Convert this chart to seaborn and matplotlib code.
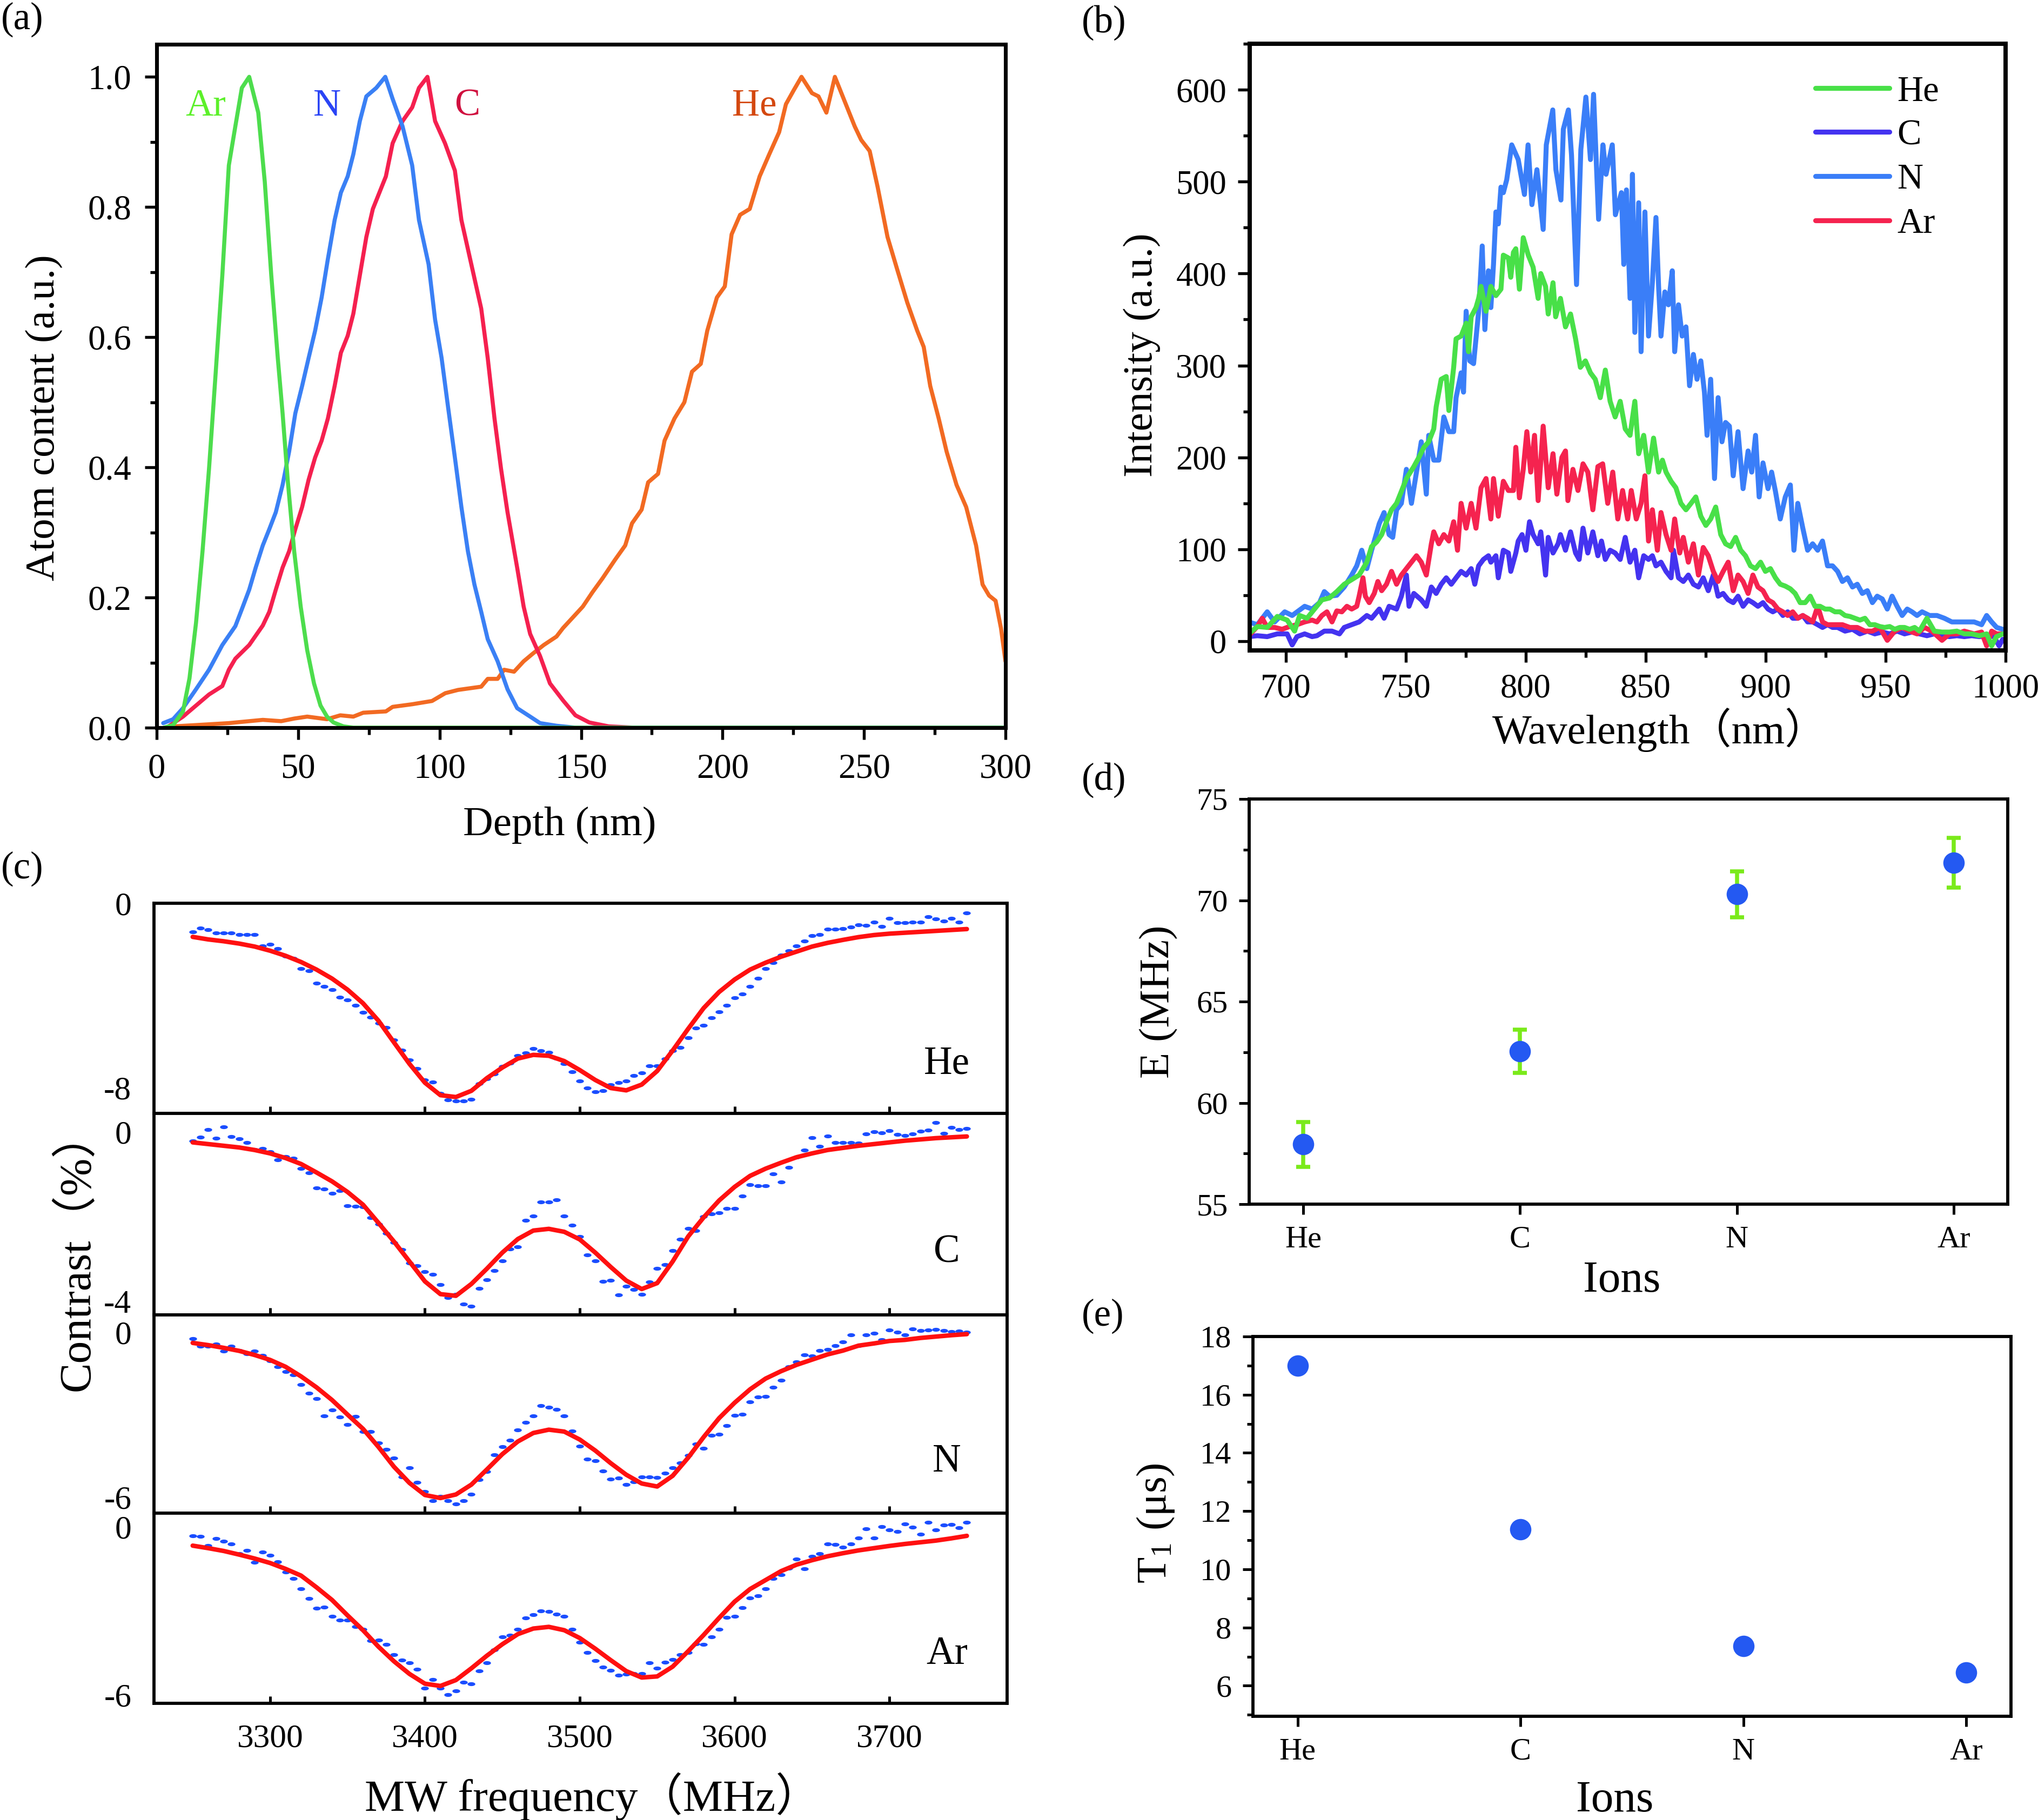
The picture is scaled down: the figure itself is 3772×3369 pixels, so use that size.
#!/usr/bin/env python3
# -*- coding: utf-8 -*-
"""
plot.py
Ion implantation figure: depth profiles, PL spectra, ODMR contrast, E splitting, T1
run: python plot.py  -> out.png
"""

import numpy as np
import pandas as pd
import matplotlib
matplotlib.use("Agg")
import matplotlib.pyplot as plt
import seaborn as sns
from matplotlib.markers import MarkerStyle
from matplotlib.path import Path
from matplotlib.ticker import MultipleLocator, FormatStrFormatter

# ============================================================
# appearance
# ============================================================
sns.set_theme(style="ticks")
plt.rcParams["font.family"] = ["Liberation Serif", "Noto Sans CJK SC"]
plt.rcParams["axes.unicode_minus"] = False
plt.rcParams["mathtext.fontset"] = "custom"
plt.rcParams["mathtext.rm"] = "Liberation Serif"
plt.rcParams["mathtext.it"] = "Liberation Serif:italic"
for key in ["text.color", "axes.labelcolor", "xtick.color", "ytick.color", "axes.edgecolor"]:
    plt.rcParams[key] = "black"

W, H = 3772, 3369

# ============================================================
# data
# ============================================================
# (a) depth profiles (nm, a.u.)
ar_depth = [2.5, 5.8, 9.3, 11.6, 13.9, 16.2, 18.5, 20.8, 23.2, 25.5, 27.8, 30.1, 32.7, 35.9, 38.2,
            40.5, 42.8, 44.5, 46.3, 48.6, 50.9, 53.2, 55.6, 57.9, 60.2, 62.5, 66.0, 69.5, 300]
ar_content = [0, 0.004, 0.025, 0.076, 0.161, 0.271, 0.398, 0.542, 0.695, 0.864, 0.924, 0.983, 1.0, 0.945, 0.839,
              0.695, 0.568, 0.483, 0.381, 0.271, 0.186, 0.119, 0.068, 0.034, 0.017, 0.008, 0.002, 0, 0]

n_depth = [2.3, 5.8, 9.3, 13.9, 18.5, 23.2, 27.8, 30.1, 32.7, 35.0,
           37.5, 39.8, 42.1, 44.5, 46.8, 49.0, 51.4, 53.7, 56.0, 58.3,
           60.5, 62.9, 65.1, 67.5, 69.5, 71.8, 74.1, 77.6, 80.8, 83.4,
           86.9, 90.3, 92.7, 96.1, 98.4, 100.7, 103.0, 105.4, 107.7, 110.0,
           112.3, 114.7, 117.0, 120.5, 124.0, 127.4, 132.0, 135.5, 141.3, 148.0, 300]
n_content = [0.007, 0.013, 0.030, 0.059, 0.089, 0.127, 0.156, 0.182, 0.212, 0.246,
             0.280, 0.305, 0.331, 0.373, 0.424, 0.483, 0.525, 0.568, 0.610, 0.661,
             0.720, 0.780, 0.822, 0.847, 0.881, 0.932, 0.970, 0.983, 1.0, 0.966,
             0.924, 0.864, 0.780, 0.712, 0.627, 0.568, 0.492, 0.415, 0.339, 0.271,
             0.220, 0.178, 0.136, 0.102, 0.059, 0.030, 0.017, 0.007, 0.003, 0.0, 0.0]

c_depth = [3.5, 9.3, 13.9, 18.5, 23.2, 25.5, 27.8, 32.7, 37.5, 39.8,
           42.1, 44.5, 46.8, 49.0, 51.4, 53.7, 56.0, 58.3, 60.5, 62.9,
           65.1, 67.5, 69.5, 71.8, 74.1, 76.4, 78.7, 81.0, 83.4, 86.9,
           90.3, 92.7, 95.7, 98.4, 101.9, 105.4, 107.7, 111.2, 114.7, 117.0,
           119.4, 121.7, 124.0, 127.4, 129.7, 132.0, 135.5, 139.0, 143.6, 148.0,
           152.9, 159.8, 169.0, 300]
c_content = [0.0, 0.017, 0.034, 0.051, 0.064, 0.089, 0.106, 0.127, 0.157, 0.178,
             0.212, 0.246, 0.271, 0.305, 0.339, 0.381, 0.415, 0.441, 0.475, 0.525,
             0.576, 0.602, 0.636, 0.695, 0.754, 0.797, 0.822, 0.847, 0.898, 0.932,
             0.953, 0.983, 1.0, 0.932, 0.898, 0.856, 0.780, 0.712, 0.644, 0.568,
             0.475, 0.398, 0.331, 0.246, 0.186, 0.144, 0.110, 0.068, 0.042, 0.019,
             0.008, 0.002, 0.0, 0.0]

he_depth = [5.8, 13.9, 25.5, 32.7, 37.5, 44.0, 48.6, 53.2, 60.2, 64.9,
            69.5, 73.0, 81.0, 83.4, 90.3, 97.3, 102.0, 106.5, 114.7, 117.0,
            120.5, 122.8, 126.3, 129.7, 133.0, 136.8, 141.3, 143.6, 147.0, 150.6,
            154.0, 157.5, 162.0, 165.6, 168.0, 171.4, 173.7, 177.2, 179.5, 183.0,
            186.5, 189.2, 192.3, 194.6, 198.0, 200.8, 203.2, 206.2, 209.6, 213.1,
            216.5, 220.0, 222.4, 225.1, 227.9, 231.6, 233.9, 236.7, 239.7, 243.2,
            246.7, 249.0, 252.0, 254.8, 258.3, 261.8, 265.3, 268.8, 271.1, 273.4,
            276.4, 279.2, 282.7, 286.1, 289.6, 291.9, 294.2, 296.5, 298.4, 300.0]
he_content = [0.002, 0.004, 0.007, 0.010, 0.012, 0.010, 0.014, 0.017, 0.013, 0.019,
              0.017, 0.023, 0.025, 0.032, 0.036, 0.041, 0.053, 0.058, 0.063, 0.075,
              0.075, 0.089, 0.086, 0.102, 0.114, 0.127, 0.140, 0.153, 0.169, 0.186,
              0.208, 0.229, 0.258, 0.280, 0.314, 0.335, 0.377, 0.390, 0.441, 0.475,
              0.500, 0.547, 0.559, 0.610, 0.661, 0.678, 0.758, 0.788, 0.797, 0.847,
              0.881, 0.915, 0.958, 0.979, 1.0, 0.975, 0.970, 0.945, 1.0, 0.962,
              0.924, 0.903, 0.886, 0.831, 0.754, 0.703, 0.653, 0.610, 0.585, 0.525,
              0.475, 0.424, 0.373, 0.339, 0.280, 0.220, 0.203, 0.195, 0.153, 0.102]

# (b) PL spectra (nm, a.u.)
he_wl = [684.6, 688.2, 692.3, 696.5, 700.6, 703.7, 705.8, 708.9, 712.0, 715.1,
         718.2, 721.3, 724.4, 727.5, 730.6, 733.8, 735.8, 737.9, 740.0, 742.0,
         744.1, 746.2, 748.2, 750.3, 753.4, 755.5, 757.6, 759.6, 761.7, 762.7,
         764.8, 766.9, 768.0, 770.0, 771.0, 773.1, 775.2, 776.2, 777.3, 779.3,
         780.4, 781.4, 783.5, 785.5, 787.6, 789.7, 790.7, 792.8, 793.8, 794.9,
         795.9, 797.4, 799.0, 801.1, 803.1, 805.2, 806.3, 808.3, 809.4, 811.4,
         812.5, 814.5, 816.6, 818.7, 820.8, 822.8, 824.9, 827.0, 829.0, 831.1,
         833.2, 835.2, 837.3, 839.4, 841.5, 843.5, 845.5, 847.1, 849.2, 851.2,
         853.3, 855.4, 857.0, 858.5, 860.6, 862.6, 864.7, 866.8, 868.9, 870.9,
         873.0, 875.1, 877.1, 879.2, 881.3, 883.3, 885.4, 887.5, 889.6, 891.6,
         893.7, 895.8, 897.9, 899.9, 902.0, 904.1, 906.1, 908.2, 910.3, 912.3,
         914.4, 916.5, 918.6, 920.6, 922.7, 924.8, 926.8, 928.9, 931.0, 933.1,
         935.1, 937.2, 939.3, 941.4, 943.4, 945.5, 947.6, 949.6, 951.7, 953.8,
         955.9, 957.9, 960.0, 962.1, 964.1, 967.2, 970.3, 973.5, 976.6, 979.7,
         982.8, 985.9, 989.0, 992.1, 994.2, 996.2, 998.8]
he_int = [8, 16, 15, 27, 23, 11, 28, 25, 35, 45,
          47, 54, 62, 67, 72, 86, 103, 108, 116, 130,
          143, 150, 163, 177, 190, 200, 211, 217, 231, 255,
          285, 288, 251, 298, 329, 332, 346, 315, 353, 363,
          373, 386, 359, 386, 376, 383, 420, 417, 396, 423,
          427, 383, 439, 420, 407, 373, 400, 386, 356, 390,
          353, 373, 342, 356, 329, 298, 305, 292, 285, 265,
          295, 261, 244, 261, 231, 224, 261, 204, 224, 184,
          221, 184, 197, 184, 174, 167, 150, 143, 150, 157,
          136, 126, 133, 146, 116, 106, 103, 113, 99, 93,
          82, 79, 86, 76, 79, 69, 62, 60, 57, 52,
          42, 42, 49, 38, 38, 35, 35, 32, 32, 28,
          27, 25, 23, 25, 18, 18, 16, 15, 16, 13,
          15, 15, 13, 15, 11, 25, 11, 10, 10, 11,
          8, 8, 6, 8, -5, 5, 8]

c_wl = [684.6, 688.2, 692.3, 696.5, 700.6, 702.7, 704.7, 707.9, 711.0, 713.0,
        716.1, 719.3, 722.4, 724.4, 727.5, 730.6, 733.8, 735.8, 739.0, 741.0,
        743.1, 746.2, 748.2, 750.3, 751.4, 753.4, 756.5, 758.6, 760.7, 762.7,
        764.8, 766.9, 769.0, 771.0, 773.1, 775.2, 777.3, 778.8, 780.4, 782.4,
        784.5, 785.5, 787.6, 788.6, 790.7, 792.8, 793.8, 795.9, 796.9, 798.5,
        800.1, 801.6, 803.1, 805.2, 806.3, 808.3, 809.4, 811.4, 813.5, 814.5,
        816.6, 818.7, 820.8, 822.3, 823.9, 825.9, 828.0, 830.1, 831.6, 833.2,
        835.2, 837.3, 839.4, 841.5, 843.5, 845.5, 847.1, 849.2, 851.2, 852.8,
        854.3, 856.4, 858.5, 860.6, 861.6, 863.7, 865.7, 867.8, 869.9, 872.0,
        874.0, 876.1, 878.2, 880.2, 882.3, 884.4, 886.5, 888.5, 890.6, 892.7,
        894.7, 896.8, 898.9, 901.0, 903.0, 905.1, 907.2, 909.2, 911.3, 913.4,
        915.5, 917.5, 919.6, 921.7, 923.7, 925.8, 927.9, 930.0, 933.1, 936.2,
        939.3, 942.4, 945.5, 948.6, 951.7, 954.8, 957.9, 961.0, 964.1, 967.2,
        970.3, 973.5, 976.6, 979.7, 982.8, 985.9, 989.0, 992.1, 995.2, 997.3,
        998.8]
c_int = [5, 6, 5, 8, 8, -4, 5, 8, 5, 6,
         11, 11, 8, 15, 18, 21, 28, 25, 35, 25,
         38, 35, 49, 72, 38, 52, 45, 38, 59, 52,
         62, 69, 62, 69, 76, 72, 79, 62, 82, 89,
         93, 86, 93, 69, 99, 96, 76, 96, 109, 116,
         99, 130, 116, 106, 119, 72, 113, 96, 106, 116,
         99, 119, 96, 89, 123, 96, 119, 93, 109, 89,
         99, 96, 89, 113, 86, 99, 69, 93, 89, 93,
         82, 86, 76, 69, 99, 69, 65, 72, 62, 59,
         69, 55, 72, 49, 52, 45, 42, 49, 38, 45,
         42, 38, 42, 35, 32, 35, 28, 32, 25, 25,
         28, 21, 21, 18, 15, 18, 15, 15, 11, 13,
         8, 11, 8, 10, 8, 11, 8, 10, 8, 6,
         8, 6, 5, 6, 5, 6, 5, 6, 5, -5,
         2]

n_wl = [684.6, 688.2, 692.3, 695.4, 699.6, 702.7, 707.9, 711.0, 714.1, 716.1,
        718.2, 721.3, 724.4, 727.5, 729.6, 731.7, 733.8, 735.8, 739.0, 741.0,
        743.1, 744.6, 746.2, 748.2, 750.3, 752.4, 754.5, 756.5, 758.6, 759.6,
        761.7, 763.8, 765.9, 768.0, 770.0, 771.0, 773.1, 774.1, 775.2, 776.7,
        778.3, 780.4, 781.9, 783.0, 784.5, 785.5, 786.6, 787.6, 788.6, 789.7,
        790.7, 792.1, 794.2, 796.9, 799.5, 801.0, 802.6, 804.7, 807.3, 808.6,
        811.3, 812.6, 814.7, 815.7, 817.8, 819.1, 821.2, 823.0, 825.1, 827.0,
        828.3, 830.4, 832.2, 833.5, 836.1, 837.4, 839.9, 840.9, 842.0, 843.5,
        844.5, 845.5, 847.1, 848.1, 849.7, 851.2, 852.8, 854.3, 855.4, 856.4,
        858.0, 859.5, 861.1, 862.1, 863.7, 865.2, 866.8, 868.3, 869.9, 871.4,
        873.0, 874.5, 875.6, 877.1, 878.7, 880.2, 881.8, 883.3, 884.9, 886.5,
        888.5, 890.6, 892.7, 894.2, 895.8, 897.3, 898.9, 901.0, 902.5, 904.1,
        906.1, 908.2, 910.3, 911.8, 913.4, 915.5, 917.5, 919.6, 921.7, 923.7,
        925.8, 927.9, 930.0, 932.0, 934.1, 936.2, 938.2, 940.3, 942.4, 944.5,
        946.5, 948.6, 950.7, 952.7, 954.8, 956.9, 959.0, 961.0, 963.1, 965.2,
        968.3, 971.4, 974.5, 977.6, 980.7, 983.8, 986.9, 990.0, 992.1, 994.2,
        996.3, 998.8]
n_int = [21, 18, 32, 21, 32, 28, 38, 35, 42, 54,
         49, 50, 59, 72, 82, 99, 79, 99, 128, 140,
         116, 113, 143, 150, 187, 150, 184, 217, 160, 224,
         197, 197, 244, 228, 228, 265, 292, 271, 359, 305,
         302, 359, 430, 339, 403, 363, 410, 467, 454, 494,
         488, 502, 540, 524, 486, 540, 475, 513, 448, 540,
         578, 513, 480, 557, 578, 529, 388, 535, 592, 524,
         595, 459, 540, 508, 540, 464, 488, 410, 491, 373,
         508, 336, 477, 315, 467, 332, 390, 461, 386, 332,
         380, 366, 403, 315, 366, 332, 342, 278, 312, 285,
         305, 271, 224, 285, 177, 265, 217, 238, 234, 180,
         228, 166, 207, 184, 224, 157, 194, 166, 184, 163,
         133, 157, 170, 99, 150, 123, 99, 106, 99, 109,
         82, 82, 76, 65, 69, 59, 62, 52, 55, 42,
         49, 46, 35, 49, 38, 28, 35, 32, 28, 32,
         28, 28, 25, 21, 21, 21, 21, 18, 28, 21,
         15, 13]

ar_wl = [684.6, 688.2, 690.2, 692.3, 695.4, 698.5, 701.6, 704.7, 707.9, 711.0,
         713.0, 715.1, 717.2, 719.3, 721.3, 723.4, 725.5, 727.5, 729.6, 730.6,
         732.2, 733.2, 734.8, 736.9, 738.4, 740.0, 742.0, 744.1, 746.2, 748.2,
         750.3, 752.4, 754.5, 756.5, 758.6, 760.7, 761.7, 763.8, 765.9, 768.0,
         770.0, 771.6, 773.1, 775.2, 777.3, 779.3, 781.4, 783.5, 785.5, 786.6,
         788.6, 790.7, 792.8, 794.9, 795.9, 797.4, 799.0, 800.5, 802.1, 803.7,
         805.2, 807.3, 809.4, 811.4, 813.0, 815.1, 816.6, 817.6, 819.7, 821.8,
         823.9, 825.9, 828.0, 830.1, 832.1, 834.2, 836.3, 838.4, 840.4, 842.5,
         844.0, 846.1, 848.1, 849.7, 851.2, 852.8, 854.9, 856.4, 858.5, 860.6,
         862.1, 864.2, 865.7, 867.8, 869.9, 872.0, 874.0, 876.1, 878.2, 880.2,
         882.3, 884.4, 886.5, 888.5, 890.6, 892.7, 894.7, 896.8, 898.9, 901.0,
         903.0, 905.1, 907.2, 909.2, 911.3, 913.4, 915.5, 917.5, 919.6, 921.7,
         923.7, 925.8, 928.9, 932.0, 935.1, 938.2, 941.4, 944.5, 947.6, 950.7,
         953.8, 956.9, 960.0, 963.1, 966.2, 969.3, 973.5, 976.6, 979.7, 982.8,
         986.9, 990.0, 992.1, 994.2, 996.3, 998.8]
ar_int = [6, 16, 25, 15, 15, 13, 16, 18, 21, 23,
          21, 28, 32, 21, 33, 32, 38, 35, 38, 49,
          69, 49, 42, 52, 65, 55, 62, 76, 62, 72,
          79, 86, 93, 86, 72, 106, 119, 106, 116, 109,
          130, 99, 150, 123, 150, 123, 167, 177, 133, 177,
          136, 174, 164, 164, 211, 156, 187, 228, 184, 224,
          153, 234, 167, 204, 160, 200, 207, 153, 187, 164,
          193, 184, 143, 190, 193, 150, 184, 133, 164, 133,
          164, 133, 150, 180, 109, 143, 99, 140, 116, 99,
          133, 96, 113, 86, 106, 72, 102, 93, 76, 65,
          76, 86, 55, 72, 65, 52, 72, 59, 55, 45,
          42, 35, 32, 28, 32, 25, 28, 25, 21, 38,
          21, 18, 18, 18, 15, 15, 11, 11, 15, 1,
          11, 15, 11, 8, 15, 11, 1, 8, 8, 11,
          8, 10, -5, 11, 8, 8]

# (c) ODMR contrast (%) measured every 5 MHz, fits every 10 MHz
mw_freq = np.arange(3250, 3751, 5)
fit_freq = np.arange(3250, 3751, 10)

he_dots = [-1.24, -1.08, -1.15, -1.28, -1.28, -1.28, -1.36, -1.36, -1.36, -1.86,
           -1.79, -1.96, -2.29, -2.39, -2.84, -2.94, -3.47, -3.62, -3.76, -4.09,
           -4.20, -4.44, -4.73, -4.94, -5.20, -5.39, -5.93, -6.37, -6.80, -7.17,
           -7.67, -7.75, -8.26, -8.53, -8.57, -8.57, -8.51, -7.83, -7.63, -7.40,
           -7.09, -6.93, -6.62, -6.50, -6.31, -6.39, -6.48, -6.74, -6.97, -7.31,
           -7.71, -8.02, -8.18, -8.14, -7.87, -7.79, -7.71, -7.48, -7.36, -7.05,
           -7.05, -6.76, -6.39, -6.27, -5.84, -5.41, -5.29, -4.98, -4.71, -4.44,
           -4.11, -3.93, -3.62, -3.27, -2.84, -2.57, -2.25, -2.06, -1.85, -1.63,
           -1.40, -1.36, -1.12, -1.12, -1.10, -1.04, -0.93, -0.97, -0.83, -1.01,
           -0.65, -0.85, -0.85, -0.83, -0.82, -0.59, -0.68, -0.77, -0.65, -0.83,
           -0.42]
he_fit = [-1.46, -1.57, -1.65, -1.75, -1.88, -2.06, -2.28, -2.55, -2.88, -3.27,
          -3.75, -4.34, -5.10, -6.04, -6.97, -7.79, -8.33, -8.41, -8.14, -7.59,
          -7.13, -6.74, -6.58, -6.62, -6.85, -7.24, -7.67, -8.02, -8.12, -7.87,
          -7.28, -6.39, -5.45, -4.55, -3.85, -3.31, -2.88, -2.58, -2.32, -2.10,
          -1.88, -1.72, -1.59, -1.47, -1.38, -1.32, -1.28, -1.24, -1.20, -1.16,
          -1.12]

c_dots = [-0.22, -0.13, 0.05, -0.15, 0.12, -0.12, -0.16, -0.25, -0.42, -0.39,
          -0.47, -0.66, -0.58, -0.63, -0.86, -0.97, -1.32, -1.35, -1.45, -1.39,
          -1.74, -1.76, -1.77, -2.03, -2.18, -2.39, -2.61, -2.78, -3.10, -3.16,
          -3.30, -3.37, -3.60, -3.91, -3.83, -4.06, -4.12, -3.69, -3.49, -3.28,
          -3.05, -2.77, -2.71, -2.09, -1.99, -1.66, -1.65, -1.60, -1.99, -2.21,
          -2.47, -2.90, -3.05, -3.53, -3.51, -3.85, -3.64, -3.72, -3.83, -3.54,
          -3.23, -3.13, -2.80, -2.54, -2.28, -2.33, -2.00, -1.94, -1.91, -1.81,
          -1.81, -1.51, -1.25, -1.27, -1.27, -0.99, -1.18, -0.84, -0.60, -0.43,
          -0.14, -0.34, -0.10, -0.26, -0.25, -0.25, -0.27, -0.05, 0.00, -0.03,
          0.03, -0.06, -0.09, -0.05, 0.01, 0.04, 0.22, -0.04, 0.10, 0.05,
          0.08]
c_fit = [-0.25, -0.29, -0.33, -0.37, -0.43, -0.51, -0.62, -0.76, -0.96, -1.17,
         -1.42, -1.72, -2.15, -2.59, -3.06, -3.53, -3.83, -3.87, -3.59, -3.23,
         -2.85, -2.53, -2.33, -2.29, -2.36, -2.54, -2.85, -3.19, -3.51, -3.71,
         -3.57, -3.06, -2.47, -2.02, -1.62, -1.30, -1.04, -0.87, -0.73, -0.60,
         -0.51, -0.43, -0.38, -0.33, -0.29, -0.25, -0.21, -0.18, -0.15, -0.13,
         -0.11]

n_dots = [-0.22, -0.50, -0.50, -0.43, -0.67, -0.51, -0.65, -0.78, -0.67, -0.84,
          -1.04, -1.24, -1.43, -1.54, -1.89, -2.22, -2.40, -3.03, -2.82, -3.07,
          -3.36, -3.05, -3.61, -3.60, -4.03, -4.25, -4.57, -5.26, -4.92, -5.46,
          -5.80, -6.13, -5.97, -6.13, -6.24, -6.13, -5.90, -5.37, -5.07, -4.46,
          -4.17, -3.92, -3.56, -3.28, -3.04, -2.66, -2.72, -2.80, -3.03, -3.58,
          -4.15, -4.62, -4.67, -5.05, -5.35, -5.30, -5.54, -5.43, -5.26, -5.26,
          -5.29, -5.13, -4.92, -4.76, -4.48, -4.07, -4.21, -3.74, -3.71, -3.39,
          -3.02, -2.98, -2.53, -2.35, -2.34, -1.99, -1.75, -1.25, -1.07, -0.82,
          -0.86, -0.66, -0.61, -0.48, -0.35, -0.08, -0.48, -0.08, -0.02, -0.27,
          0.08, 0.02, -0.08, 0.13, 0.06, 0.08, 0.11, 0.06, 0.03, 0.04,
          0.01]
n_fit = [-0.38, -0.46, -0.56, -0.67, -0.82, -1.00, -1.25, -1.60, -2.00, -2.46,
         -2.99, -3.51, -4.17, -4.89, -5.48, -5.92, -6.03, -5.90, -5.54, -4.99,
         -4.43, -3.97, -3.66, -3.54, -3.61, -3.90, -4.30, -4.76, -5.18, -5.50,
         -5.61, -5.22, -4.56, -3.81, -3.12, -2.56, -2.07, -1.68, -1.41, -1.18,
         -0.99, -0.80, -0.66, -0.48, -0.40, -0.31, -0.27, -0.20, -0.15, -0.10,
         -0.06]

ar_dots = [-0.33, -0.35, -0.68, -0.42, -0.53, -0.62, -0.96, -0.85, -1.27, -0.90,
           -1.03, -1.25, -1.62, -1.86, -2.23, -2.57, -2.91, -2.88, -3.21, -3.33,
           -3.33, -3.57, -3.66, -4.07, -4.05, -4.20, -4.57, -4.76, -4.86, -5.10,
           -5.77, -5.46, -5.77, -6.00, -5.87, -5.55, -5.62, -5.15, -4.87, -4.40,
           -3.93, -3.87, -3.66, -3.26, -3.15, -3.01, -3.04, -3.13, -3.20, -3.66,
           -4.13, -4.50, -4.79, -5.02, -5.13, -5.31, -5.26, -5.24, -5.24, -4.87,
           -5.06, -4.84, -4.74, -4.57, -4.49, -4.18, -4.20, -3.94, -3.66, -3.24,
           -3.20, -2.90, -2.55, -2.47, -2.23, -1.86, -1.72, -1.49, -1.15, -1.51,
           -1.06, -0.97, -0.62, -0.64, -0.74, -0.61, -0.40, -0.08, -0.40, -0.01,
           -0.11, -0.17, 0.10, -0.03, -0.28, 0.16, -0.11, 0.05, 0.08, -0.05,
           0.16]
ar_fit = [-0.68, -0.77, -0.87, -1.00, -1.14, -1.30, -1.51, -1.75, -2.17, -2.62,
          -3.17, -3.70, -4.29, -4.81, -5.26, -5.61, -5.69, -5.48, -5.06, -4.61,
          -4.20, -3.84, -3.64, -3.58, -3.70, -3.98, -4.36, -4.77, -5.16, -5.39,
          -5.35, -5.00, -4.45, -3.87, -3.26, -2.68, -2.23, -1.91, -1.59, -1.36,
          -1.20, -1.06, -0.95, -0.85, -0.77, -0.69, -0.62, -0.56, -0.50, -0.42,
          -0.33]

# (d), (e)
ions = ["He", "C", "N", "Ar"]
e_split = [57.95, 62.55, 70.3, 71.85]
e_err = [1.1, 1.07, 1.13, 1.22]
t1_us = [17.0, 11.38, 7.37, 6.46]

# colours
DEPTH_COLORS = {"He": "#f26a22", "C": "#f5204f", "N": "#3a80f5", "Ar": "#4ddd4d"}
DEPTH_TEXT = {"He": "#d4480f", "C": "#d0103f", "N": "#2a44f5", "Ar": "#5cf02a"}
PL_COLORS = {"He": "#48e048", "C": "#4433f0", "N": "#3a7ef8", "Ar": "#f5234f"}
DOT_BLUE = "#1a4dff"
FIT_RED = "#ff1010"


def rect(left, top, right, bottom):
    return [left / W, 1 - bottom / H, (right - left) / W, (bottom - top) / H]


def frame(ax, lw):
    for sp in ax.spines.values():
        sp.set_linewidth(lw)
        sp.set_color("black")


# ============================================================
# panels
# ============================================================
def plot_depth(ax):
    series = [("He", he_depth, he_content), ("C", c_depth, c_content),
              ("N", n_depth, n_content), ("Ar", ar_depth, ar_content)]
    for name, x, y in series:
        sns.lineplot(x=x, y=y, color=DEPTH_COLORS[name], linewidth=1.8,
                     estimator=None, ax=ax)
    for name, xpos in [("Ar", 17.4), ("N", 60.3), ("C", 109.8), ("He", 211.2)]:
        ax.text(xpos, 0.955, name, color=DEPTH_TEXT[name], fontsize=17,
                ha="center", va="center")
    ax.set_xlim(0, 300)
    ax.set_ylim(0, 1.05)
    ax.xaxis.set_major_locator(MultipleLocator(50))
    ax.xaxis.set_minor_locator(MultipleLocator(25))
    ax.yaxis.set_major_locator(MultipleLocator(0.2))
    ax.yaxis.set_minor_locator(MultipleLocator(0.1))
    ax.yaxis.set_major_formatter(FormatStrFormatter("%.1f"))
    ax.tick_params(which="major", direction="out", length=5.3, width=1.3, labelsize=15.5, pad=6)
    ax.tick_params(which="minor", direction="out", length=3, width=1.3)
    ax.set_xlabel("Depth (nm)", fontsize=18.5)
    ax.set_ylabel("Atom content (a.u.)", fontsize=18.5)
    ax.xaxis.set_label_coords(0.475, -0.115)
    ax.yaxis.set_label_coords(-0.111, 0.454)
    frame(ax, 1.7)


def plot_pl(ax):
    series = [("N", n_wl, n_int), ("C", c_wl, c_int), ("Ar", ar_wl, ar_int), ("He", he_wl, he_int)]
    for name, x, y in series:
        sns.lineplot(x=x, y=y, color=PL_COLORS[name], linewidth=2.2,
                     estimator=None, label=name, ax=ax)
    handles, labels = ax.get_legend_handles_labels()
    order = [labels.index(n) for n in ["He", "C", "N", "Ar"]]
    ax.legend([handles[i] for i in order], [labels[i] for i in order],
              loc="upper left", bbox_to_anchor=(0.729, 0.972), borderaxespad=0,
              frameon=False, fontsize=16, handlelength=2.06, handletextpad=0.22,
              labelspacing=0.31)
    ax.set_xlim(685, 1000)
    ax.set_ylim(-10, 650)
    ax.xaxis.set_major_locator(MultipleLocator(50))
    ax.xaxis.set_minor_locator(MultipleLocator(25))
    ax.yaxis.set_major_locator(MultipleLocator(100))
    ax.yaxis.set_minor_locator(MultipleLocator(50))
    ax.tick_params(which="major", direction="out", length=5.3, width=1.3, labelsize=15, pad=5)
    ax.tick_params(which="minor", direction="out", length=3, width=1.3)
    ax.set_xlabel("Wavelength（nm）", fontsize=18.5)
    ax.set_ylabel("Intensity (a.u.)", fontsize=18.5)
    ax.xaxis.set_label_coords(0.542, -0.094)
    ax.yaxis.set_label_coords(-0.118, 0.487)
    frame(ax, 1.9)


def plot_odmr(axes):
    theta = np.linspace(0, 2 * np.pi, 33)
    dot_shape = MarkerStyle(Path(np.column_stack([np.cos(theta), 0.5 * np.sin(theta)]), closed=True))
    panels = [("He", he_dots, he_fit, (-9.12, 0.0), -8, -6.97),
              ("C", c_dots, c_fit, (-4.32, 0.434), -4, -2.85),
              ("N", n_dots, n_fit, (-6.58, 0.64), -6, -4.72),
              ("Ar", ar_dots, ar_fit, (-6.31, 0.48), -6, -4.55)]
    for i, (ax, (name, dots, fit, ylim, low, ylab)) in enumerate(zip(axes, panels)):
        sns.scatterplot(x=mw_freq, y=dots, marker=dot_shape, s=12, color=DOT_BLUE,
                        linewidth=0, ax=ax, zorder=2)
        sns.lineplot(x=fit_freq, y=fit, color=FIT_RED, linewidth=2.0,
                     estimator=None, ax=ax, zorder=3)
        ax.text(3737, ylab, name, fontsize=17.5, ha="center", va="center")
        ax.set_xlim(3225, 3776)
        ax.set_ylim(*ylim)
        ax.set_xticks([3300, 3400, 3500, 3600, 3700])
        ax.set_yticks([0, low])
        ax.tick_params(axis="x", direction="in", length=3.2, width=1.2,
                       labelsize=14.7, pad=9, labelbottom=(i == len(axes) - 1))
        ax.tick_params(axis="y", length=0, labelsize=14.7, pad=10)
        ax.set_xlabel("")
        ax.set_ylabel("")
        frame(ax, 1.4)


def plot_ions(ax, values, err, ylabel, ylim, major, minor, xlim, label_x, label_y, ylabel_x, ylabel_y):
    if err is not None:
        ax.errorbar(ions, values, yerr=err, fmt="none", ecolor="#7aea1a",
                    elinewidth=1.8, capsize=3.2, capthick=1.8, zorder=2)
    sns.scatterplot(x=ions, y=values, s=9.5 ** 2, color="#2459f2", linewidth=0,
                    ax=ax, zorder=3)
    ax.set_xlim(*xlim)
    ax.set_ylim(*ylim)
    ax.yaxis.set_major_locator(MultipleLocator(major))
    ax.yaxis.set_minor_locator(MultipleLocator(minor))
    ax.tick_params(which="major", direction="out", length=4.5, width=1.2, labelsize=14, pad=5)
    ax.tick_params(which="minor", direction="out", length=2.6, width=1.2)
    ax.tick_params(axis="x", which="minor", length=0)
    ax.set_xlabel("Ions", fontsize=20)
    ax.set_ylabel(ylabel, fontsize=19)
    ax.xaxis.set_label_coords(label_x, label_y)
    ax.yaxis.set_label_coords(ylabel_x, ylabel_y)
    frame(ax, 1.4)


# ============================================================
# figure
# ============================================================
def main():
    fig = plt.figure(figsize=(W / 300, H / 300), dpi=300)

    ax_a = fig.add_axes(rect(290, 82, 1861, 1347))
    ax_b = fig.add_axes(rect(2313, 81, 3712, 1204))
    ax_c = [fig.add_axes(rect(285, t, 1864, b))
            for t, b in [(1672, 2061), (2061, 2434), (2434, 2801), (2801, 3153)]]
    ax_d = fig.add_axes(rect(2312, 1479, 3716, 2229))
    ax_e = fig.add_axes(rect(2319, 2474, 3722, 3177))

    plot_depth(ax_a)
    plot_pl(ax_b)
    plot_odmr(ax_c)
    plot_ions(ax_d, e_split, e_err, "E (MHz)", (55, 75), 5, 2.5, (-0.25, 3.25),
              0.491, -0.139, -0.094, 0.5)
    plot_ions(ax_e, t1_us, None, "T$_{1}$ (μs)", (4.95, 18), 2, 1, (-0.2, 3.2),
              0.477, -0.169, -0.101, 0.509)

    fig.text(143 / W, 1 - 2316 / H, "Contrast（%）", rotation=90, fontsize=20,
             ha="center", va="center")
    fig.text(1097 / W, 1 - 3325 / H, "MW frequency（MHz）", fontsize=20,
             ha="center", va="center")

    for letter, x, y in [("(a)", 2, 36), ("(b)", 2002, 42), ("(c)", 2, 1608),
                         ("(d)", 2002, 1444), ("(e)", 2002, 2436)]:
        fig.text(x / W, 1 - y / H, letter, fontsize=17, ha="left", va="center")

    fig.savefig("out.png", dpi=300)
    plt.close(fig)


if __name__ == "__main__":
    main()
